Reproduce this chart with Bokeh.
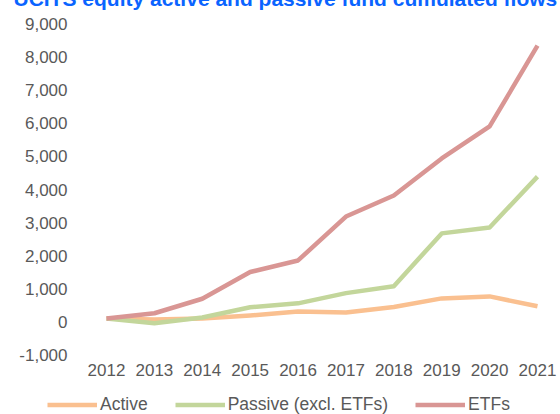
from bokeh.plotting import figure
from bokeh.layouts import column
from bokeh.models import Range1d, FixedTicker, NumeralTickFormatter, Legend, LegendItem, Title, ColumnDataSource
from bokeh.embed import file_html
from bokeh.resources import INLINE

years = [2012, 2013, 2014, 2015, 2016, 2017, 2018, 2019, 2020, 2021]
active = [90, 60, 90, 180, 300, 270, 440, 700, 760, 460]
passive = [90, -50, 120, 430, 550, 860, 1070, 2670, 2850, 4390]
etfs = [90, 250, 690, 1500, 1850, 3180, 3820, 4940, 5910, 8360]
y_ticks = [-1000, 0, 1000, 2000, 3000, 4000, 5000, 6000, 7000, 8000, 9000]
title_text = "UCITS equity active and passive fund cumulated flows"
series_names = ["Active", "Passive (excl. ETFs)", "ETFs"]
colors = ["#FAC090", "#C3D69B", "#D99694"]

FONT = "Liberation Sans"
GREY = "#595959"
HIDE = 40  # part of the figure pushed above the window (title is cut in the reference)

p = figure(width=560, height=384 + HIDE, output_backend="svg", toolbar_location=None,
           x_range=Range1d(2011.4153, 2021.3968), y_range=Range1d(-1121.2, 9121.2),
           min_border_left=78, min_border_right=4, min_border_top=20 + HIDE, min_border_bottom=26)
p.frame_align = False
p.outline_line_color = None
p.background_fill_color = "white"
p.border_fill_color = "white"
p.xgrid.visible = False
p.ygrid.visible = False

for ax in (p.xaxis[0], p.yaxis[0]):
    ax.axis_line_color = None
    ax.major_tick_line_color = None
    ax.minor_tick_line_color = None
    ax.major_tick_out = 0
    ax.major_tick_in = 0
    ax.minor_tick_out = 0
    ax.minor_tick_in = 0
    ax.major_label_text_font = FONT
    ax.major_label_text_font_size = "17px"
    ax.major_label_text_color = GREY

p.xaxis.ticker = FixedTicker(ticks=years)
p.xaxis.major_label_standoff = 5
p.yaxis.ticker = FixedTicker(ticks=y_ticks)
p.yaxis.formatter = NumeralTickFormatter(format="0,0")
p.yaxis.major_label_standoff = 11

src = ColumnDataSource(dict(x=years, a=active, p=passive, e=etfs))
for col, c in zip(["a", "p", "e"], colors):
    p.line("x", col, source=src, line_color=c, line_width=4.5, line_join="round")

title = Title(text=title_text, align="left", offset=-65, standoff=21,
              text_font=FONT, text_font_size="21px", text_font_style="bold",
              text_color="#0A64FF")
p.add_layout(title, "above")

# legend strip below the chart (its lines lie outside its ranges, only the legend shows)
q = figure(width=560, height=38, output_backend="svg", toolbar_location=None,
           x_range=Range1d(0, 1), y_range=Range1d(0, 1),
           x_axis_location=None, y_axis_location=None,
           min_border_left=0, min_border_right=0, min_border_top=0, min_border_bottom=0)
q.frame_align = False
q.outline_line_color = None
q.xgrid.visible = False
q.ygrid.visible = False
legend_lines = [q.line("x", col, source=src, line_color=c, line_width=4.5)
                for col, c in zip(["a", "p", "e"], colors)]
legend = Legend(items=[LegendItem(label=n, renderers=[r]) for n, r in zip(series_names, legend_lines)],
                orientation="horizontal", location=(47, 7.5),
                glyph_width=50, glyph_height=17, label_height=17, label_width=10,
                label_standoff=3, spacing=27, padding=0, margin=0,
                border_line_color=None, background_fill_alpha=0,
                label_text_font=FONT, label_text_font_size="17.5px", label_text_color=GREY)
q.add_layout(legend, "center")

layout = column(p, q, spacing=0)
layout.styles = {"margin": f"-{HIDE}px -16px -16px 0px"}

open("out.html", "w").write(file_html(layout, INLINE))
